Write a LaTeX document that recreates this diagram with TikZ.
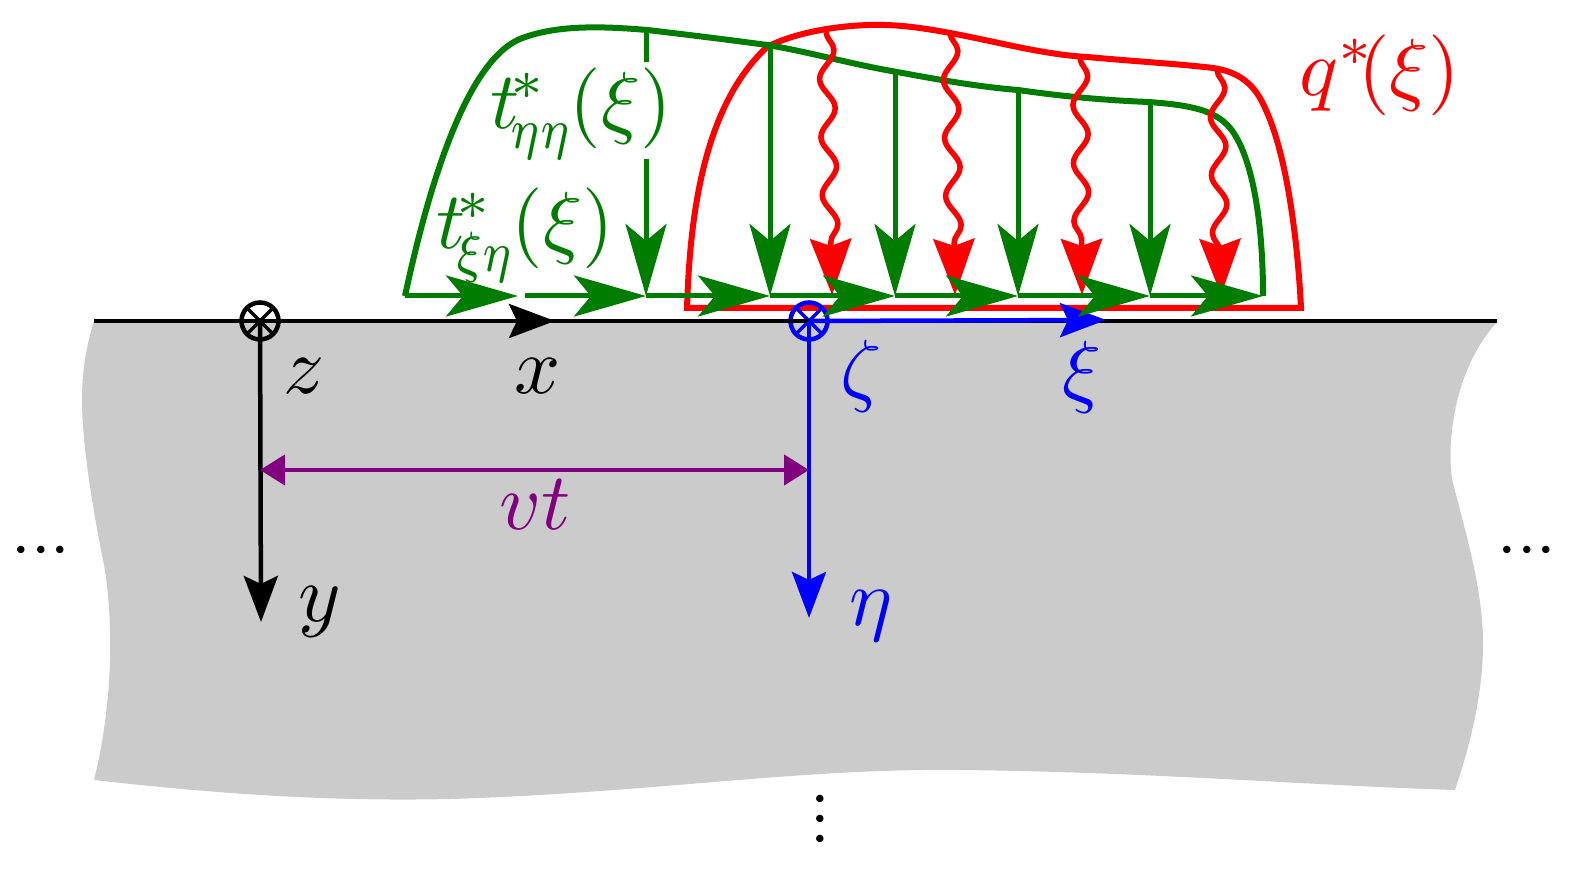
\documentclass[tikz,border=0pt]{standalone}
\usetikzlibrary{arrows.meta, decorations.pathmorphing}
\definecolor{loadgreen}{RGB}{0,125,0}
\definecolor{halfspace}{RGB}{203,203,203}
\definecolor{offset}{RGB}{128,0,128}
\tikzset{
  x=0.01cm, y=-0.01cm, % one unit is one pixel of the picture
  mathlabel/.style={scale=2.3, inner sep=0pt},
  dotlabel/.style={scale=2, inner sep=0pt},
  outline/.style={line width=0.06cm},
  axis/.style={line width=0.045cm},
  loadline/.style={line width=0.05cm, color=loadgreen},
  loadarrow/.style={loadline, -{Stealth[length=0.72cm, width=0.41cm, inset=0.17cm]}},
  heatarrow/.style={line width=0.055cm, color=red, -{Stealth[length=0.56cm, width=0.41cm, inset=0.07cm]}, decorate, decoration={snake, segment length=0.58cm, amplitude=0.075cm, post length=0.32cm}},
  axisarrow/.style={axis, -{Stealth[length=0.46cm, width=0.34cm, inset=0.08cm]}},
  outaxis/.style={circle, draw, line width=0.045cm, minimum size=0.37cm, inner sep=0pt, path picture={
    \draw[line width=0.035cm] (path picture bounding box.north west) -- (path picture bounding box.south east)
      (path picture bounding box.north east) -- (path picture bounding box.south west);}},
}
\newcommand{\paren}{\mkern-1mu}
\newcommand{\lowidx}[1]{\scalebox{0.84}[1]{$\scriptstyle #1$}}
\newcommand{\rowdots}{${\cdot}{\cdot}{\cdot}$}
\newcommand{\coldots}{\vbox{\baselineskip=2.85pt \lineskiplimit=-10pt \hbox{$\cdot$}\hbox{$\cdot$}\hbox{$\cdot$}}}
\begin{document}
\begin{tikzpicture}
  \useasboundingbox (0,0) rectangle (1577,871);

  % half space
  \fill[halfspace] (94,321) .. controls (85,350) and (82,375) .. (82,400)
    .. controls (82,450) and (96,525) .. (103,560)
    .. controls (108,585) and (111,620) .. (110,660)
    .. controls (109,700) and (103,745) .. (94,780)
    .. controls (200,792) and (320,802) .. (450,799)
    .. controls (650,793) and (800,768) .. (960,770)
    .. controls (1150,772) and (1300,785) .. (1455,790)
    .. controls (1470,745) and (1483,695) .. (1483,643)
    .. controls (1483,590) and (1465,530) .. (1453,483)
    .. controls (1447,459) and (1448,375) .. (1498,321) -- cycle;

  % heat flux
  \draw[outline, red] (687,308) .. controls (690,210) and (705,105) .. (767,47)
    .. controls (800,30) and (850,24) .. (885,25)
    .. controls (930,26) and (990,42) .. (1033,50)
    .. controls (1055,54) and (1070,56) .. (1087,57)
    .. controls (1130,61) and (1180,64) .. (1213,68)
    .. controls (1240,72) and (1255,85) .. (1265,108)
    .. controls (1285,150) and (1297,230) .. (1301,308) -- cycle;

  % frames
  \node[outaxis] (zcirc) at (260,321) {};
  \node[outaxis, blue] (zetacirc) at (809,321) {};
  \coordinate (xleft) at (94,321);
  \coordinate (xright) at (1497,321);
  \coordinate (xtip) at (555,321);
  \coordinate (ytip) at (261,622);
  \coordinate (etatip) at (809,618);
  \coordinate (xitip) at (1106,320);
  \coordinate (vtl) at (260,470);
  \coordinate (vtr) at (809,470);
  \draw[axis] (xleft) -- (xright);
  \draw[axisarrow] (xleft) -- (xtip);
  \draw[axisarrow] (zcirc.center) -- (ytip);
  \draw[axisarrow, blue] (zetacirc.center) -- (etatip);
  \draw[axisarrow, blue] (zetacirc.center) -- (xitip);
  \draw[{Triangle[length=0.25cm, width=0.3cm]}-{Triangle[length=0.25cm, width=0.3cm]}, line width=0.045cm, offset] (vtl) -- (vtr);

  % tractions
  \draw[outline, loadgreen] (405,296) .. controls (432,170) and (470,60) .. (520,39)
    .. controls (555,25) and (600,26) .. (647,30)
    .. controls (690,35) and (730,40) .. (767,45)
    .. controls (810,52) and (850,64) .. (897,72)
    .. controls (940,80) and (980,87) .. (1018,90)
    .. controls (1060,96) and (1100,100) .. (1148,102)
    .. controls (1190,105) and (1215,110) .. (1230,128)
    .. controls (1252,155) and (1263,220) .. (1263,296);
  \coordinate (b0) at (405,296);
  \coordinate (b1) at (518,296);
  \coordinate (b1r) at (525,296);
  \coordinate (b2) at (646,296);
  \coordinate (b3) at (770,296);
  \coordinate (b4) at (895,296);
  \coordinate (b5) at (1018,296);
  \coordinate (b6) at (1150,296);
  \coordinate (b7) at (1263,296);
  \coordinate (c2) at (646,30);
  \coordinate (c2a) at (646,62);
  \coordinate (c2b) at (646,159);
  \coordinate (c3) at (770,45);
  \coordinate (c4) at (895,71);
  \coordinate (c5) at (1018,90);
  \coordinate (c6) at (1150,102);
  \coordinate (w1) at (826,32);
  \coordinate (w2) at (950,33);
  \coordinate (w3) at (1080,58);
  \coordinate (w4) at (1217,70);
  \coordinate (f1) at (832,295);
  \coordinate (f2) at (955,295);
  \coordinate (f3) at (1082,295);
  \coordinate (f4) at (1221,295);
  \draw[heatarrow] (w1) -- (f1);
  \draw[heatarrow] (w2) -- (f2);
  \draw[heatarrow] (w3) -- (f3);
  \draw[heatarrow] (w4) -- (f4);
  \draw[loadline] (c2) -- (c2a);
  \draw[loadarrow] (c2b) -- (b2);
  \draw[loadarrow] (c3) -- (b3);
  \draw[loadarrow] (c4) -- (b4);
  \draw[loadarrow] (c5) -- (b5);
  \draw[loadarrow] (c6) -- (b6);
  \draw[loadarrow] (b0) -- (b1);
  \draw[loadarrow] (b1r) -- (b2);
  \draw[loadarrow] (b2) -- (b3);
  \draw[loadarrow] (b3) -- (b4);
  \draw[loadarrow] (b4) -- (b5);
  \draw[loadarrow] (b5) -- (b6);
  \draw[loadarrow] (b6) -- (b7);

  % labels
  \node[mathlabel, text=loadgreen] (tnn) at (581,114) {$t\mkern-2mu^*_{\lowidx{\eta\eta}}\paren(\xi)$};
  \node[mathlabel, text=loadgreen] (txn) at (525,235) {$t\mkern-2mu^*_{\lowidx{\xi\eta}}\paren(\xi)$};
  \node[mathlabel, text=red] (qlab) at (1380,75) {$q^*\mkern-4mu(\xi)$};
  \node[mathlabel] (zlab) at (304,376) {$z$};
  \node[mathlabel] (xlab) at (538,376) {$x$};
  \node[mathlabel] (ylab) at (320,612) {$y$};
  \node[mathlabel, text=blue] (zetalab) at (861,376) {$\zeta$};
  \node[mathlabel, text=blue] (xilab) at (1082,377) {$\xi$};
  \node[mathlabel, text=blue] (etalab) at (871,616) {$\eta$};
  \node[mathlabel, text=offset] (vtlab) at (535,505) {$vt$};
  \node[dotlabel] (dotsl) at (41,552) {\rowdots};
  \node[dotlabel] (dotsr) at (1527,552) {\rowdots};
  \node[dotlabel] (dotsb) at (820,821) {\coldots};
\end{tikzpicture}
\end{document}
